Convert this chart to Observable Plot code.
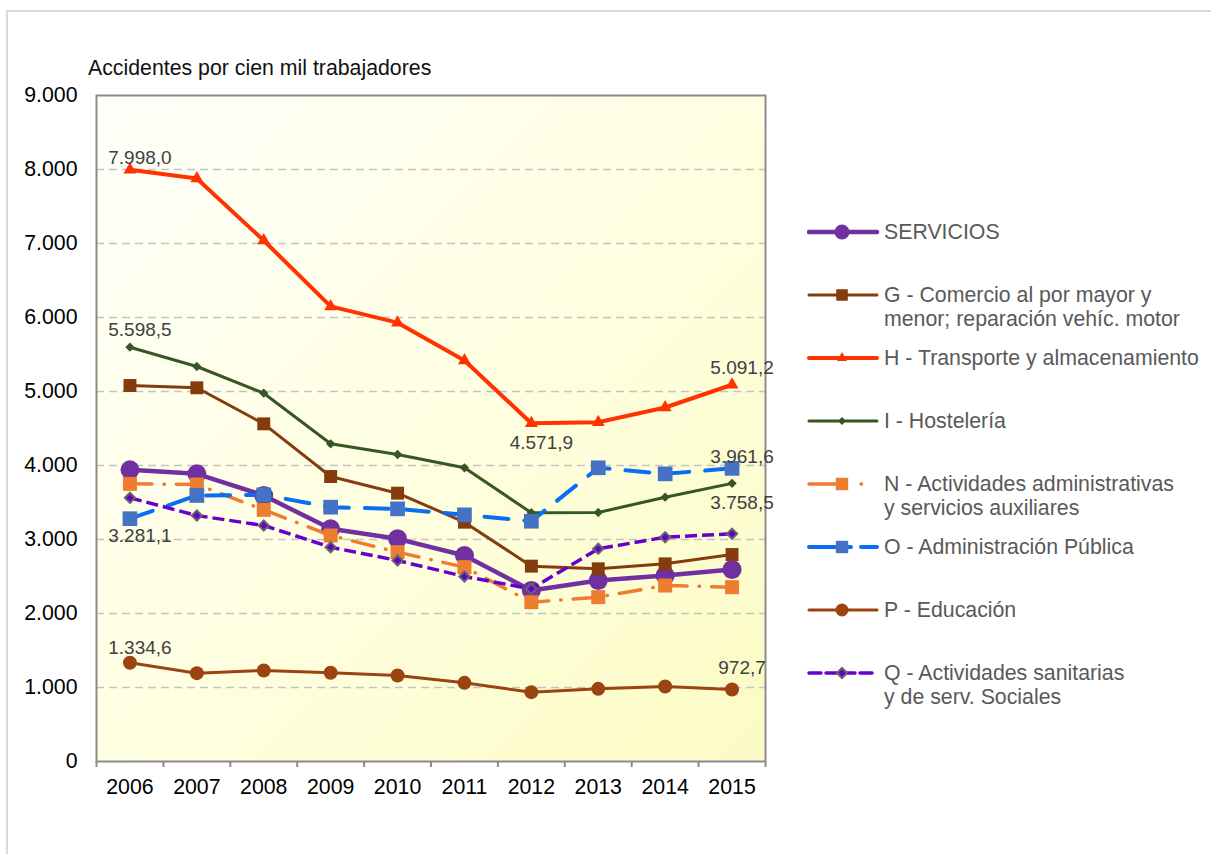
<!DOCTYPE html>
<html>
<head>
<meta charset="utf-8">
<script src="https://cdn.jsdelivr.net/npm/d3@7"></script>
<script src="https://cdn.jsdelivr.net/npm/@observablehq/plot@0.6"></script>
<style>
  html, body { margin: 0; padding: 0; background: #fff; overflow: hidden; }
  #wrap { position: relative; width: 1211px; height: 854px; font-family: "Liberation Sans", Arial, sans-serif; }
  #border { position: absolute; left: 6px; top: 10px; width: 1300px; height: 900px; border: 2px solid #d9d9d9; box-sizing: border-box; }
  #title { position: absolute; left: 88px; top: 58px; font-size: 21.3px; line-height: 21px; color: #111; white-space: nowrap; }
  #chart { position: absolute; left: 0; top: 0; }
  .item { position: absolute; left: 807px; }
  .item svg { position: absolute; left: 0; top: 0; }
  .item .txt { position: absolute; left: 77px; top: 0; font-size: 21.3px; line-height: 24px; color: #595959; white-space: nowrap; }
</style>
</head>
<body>
<div id="wrap">
  <div id="border"></div>
  <div id="title">Accidentes por cien mil trabajadores</div>
  <div id="chart"></div>
  <div id="legend"></div>
</div>
<script>
// ---------- data ----------
const years = [2006, 2007, 2008, 2009, 2010, 2011, 2012, 2013, 2014, 2015];
const servicios       = [3941, 3887, 3595, 3144, 3009, 2784, 2311, 2446, 2514, 2595];
const comercio        = [5081, 5050, 4563, 3851, 3626, 3234, 2640, 2604, 2671, 2797];
const transporte      = [7998.0, 7878, 7040, 6150, 5930, 5420, 4571.9, 4585, 4784, 5091.2];
const hosteleria      = [5598.5, 5338, 4977, 4293, 4149, 3969, 3361, 3365, 3572, 3758.5];
const administrativas = [3752, 3743, 3401, 3054, 2829, 2626, 2153, 2221, 2378, 2356];
const adminPublica    = [3281.1, 3595, 3604, 3437, 3414, 3333, 3247, 3969, 3887, 3961.6];
const educacion       = [1334.6, 1194, 1230, 1200, 1162, 1063, 937, 982, 1014, 972.7];
const sanitarias      = [3563, 3324, 3189, 2896, 2716, 2500, 2333, 2874, 3031, 3077];
const yTicks = [0, 1000, 2000, 3000, 4000, 5000, 6000, 7000, 8000, 9000];
const legendLabels = [
  ["SERVICIOS"],
  ["G - Comercio al por mayor y", "menor; reparación vehíc. motor"],
  ["H - Transporte y almacenamiento"],
  ["I - Hostelería"],
  ["N - Actividades administrativas", "y servicios auxiliares"],
  ["O - Administración Pública"],
  ["P - Educación"],
  ["Q - Actividades sanitarias", "y de serv. Sociales"]
];
// data labels: series index, year, placement
const labelPoints = [
  {s: 2, year: 2006, pos: "above"},
  {s: 3, year: 2006, pos: "above"},
  {s: 5, year: 2006, pos: "below"},
  {s: 6, year: 2006, pos: "above"},
  {s: 2, year: 2012, pos: "below"},
  {s: 2, year: 2015, pos: "above"},
  {s: 5, year: 2015, pos: "above"},
  {s: 3, year: 2015, pos: "below"},
  {s: 6, year: 2015, pos: "above"}
];

// ---------- styles ----------
const values = [servicios, comercio, transporte, hosteleria, administrativas, adminPublica, educacion, sanitarias];
const styles = [
  {stroke: "#7030A0", sw: 4.5, dash: null, cap: "round", symbol: "circle", r: 9.5, fill: "#7030A0", mstroke: "none", lr: 7.5, ldash: null},
  {stroke: "#843C0C", sw: 3, dash: null, cap: "round", symbol: "square", r: 7.3, fill: "#843C0C", mstroke: "none", lr: 6.5, ldash: null},
  {stroke: "#FF3300", sw: 4, dash: null, cap: "round", symbol: "triangle", r: 4.8, fill: "#FF3300", mstroke: "none", lr: 3.8, ldash: null},
  {stroke: "#375623", sw: 3, dash: null, cap: "round", symbol: "diamond2", r: 4.2, fill: "#375623", mstroke: "none", lr: 3.6, ldash: null},
  {stroke: "#ED7D31", sw: 3.5, dash: "22,12,0.5,12", cap: "round", symbol: "square", r: 7.9, fill: "#ED7D31", mstroke: "none", lr: 7, ldash: "36,16,0.5,40"},
  {stroke: "#0A6EF5", sw: 4, dash: "24,16", cap: "round", symbol: "square", r: 8.3, fill: "#4472C4", mstroke: "none", lr: 7, ldash: "42,10,20"},
  {stroke: "#9C4311", sw: 3, dash: null, cap: "round", symbol: "circle", r: 7, fill: "#9C4311", mstroke: "none", lr: 6.5, ldash: null},
  {stroke: "#6600CC", sw: 3.5, dash: "12,5", cap: "butt", symbol: "diamond2", r: 4.6, fill: "#6600CC", mstroke: "#666", lr: 4.6, ldash: "12,5"}
];

const esLocale = d3.formatLocale({decimal: ",", thousands: ".", grouping: [3], currency: ["", " €"]});
const fmtTick = esLocale.format(",.0f");
const fmtLabel = esLocale.format(",.1f");

const rows = values.map(arr => years.map((year, i) => ({year, value: arr[i]})));
const boundaries = [years[0] - 0.5, ...years.map(y => y + 0.5)];
const labelOffsets = {
  "2-2006": -12, "3-2006": -17, "5-2006": 17, "6-2006": -15,
  "2-2012": 20, "2-2015": -17, "5-2015": -11, "3-2015": 20, "6-2015": -22
};
const labelRows = labelPoints.map(p => {
  const v = values[p.s][years.indexOf(p.year)];
  return {year: p.year, value: v, text: fmtLabel(v), dy: labelOffsets[p.s + "-" + p.year] ?? (p.pos === "above" ? -15 : 18)};
});

const seriesMarks = [];
styles.forEach((st, k) => {
  seriesMarks.push(Plot.line(rows[k], {
    x: "year", y: "value", stroke: st.stroke, strokeWidth: st.sw,
    strokeDasharray: st.dash ?? undefined, strokeLinecap: st.cap, strokeLinejoin: "round"
  }));
  seriesMarks.push(Plot.dot(rows[k], {
    x: "year", y: "value", symbol: st.symbol, r: st.r, fill: st.fill,
    stroke: st.mstroke, strokeWidth: st.mstroke === "none" ? 0 : 2
  }));
});

const labelMarks = labelRows.map(d => Plot.text([d], {
  x: "year", y: "value", text: "text", dx: 10, dy: d.dy,
  fill: "#404040", fontSize: 19, textAnchor: "middle"
}));

const chart = Plot.plot({
  width: 790, height: 806,
  marginLeft: 96, marginRight: 25, marginTop: 95, marginBottom: 45,
  x: {type: "linear", domain: [boundaries[0], boundaries[boundaries.length - 1]]},
  y: {domain: [0, 9000]},
  style: {fontFamily: "'Liberation Sans', Arial, sans-serif", fontSize: "21px", color: "#000", background: "transparent", overflow: "visible"},
  marks: [
    Plot.frame({fill: "url(#bgGrad)", stroke: null}),
    Plot.gridY(yTicks.filter(t => t > 0 && t < 9000), {stroke: "#c4c4c4", strokeOpacity: 1, strokeDasharray: "8,5", strokeWidth: 1.5}),
    Plot.frame({stroke: "#8c8c8c", strokeWidth: 2}),
    Plot.axisY({ticks: yTicks, tickSize: 0, tickPadding: 19, tickFormat: fmtTick, label: null, fontSize: 21.3, fill: "#000"}),
    Plot.axisX({ticks: years, tickSize: 0, tickPadding: 17, tickFormat: d => String(d), label: null, fontSize: 21.3, fill: "#000"}),
    Plot.axisX({ticks: boundaries, tickSize: 6, tickFormat: () => "", label: null, stroke: "#8c8c8c", strokeWidth: 2}),
    ...seriesMarks,
    ...labelMarks
  ]
});

// gradient definition for plot background
const ns = "http://www.w3.org/2000/svg";
const defs = document.createElementNS(ns, "defs");
defs.innerHTML = `<linearGradient id="bgGrad" x1="0" y1="0" x2="1" y2="1">
  <stop offset="0" stop-color="#FFFFFA"/><stop offset="0.5" stop-color="#FFFFE2"/><stop offset="1" stop-color="#FBFBC4"/></linearGradient>`;
chart.insertBefore(defs, chart.firstChild);
document.getElementById("chart").appendChild(chart);

// ---------- legend ----------
const legend = document.getElementById("legend");
const legendTop = 232, legendStep = 63;
styles.forEach((st, k) => {
  const cy = legendTop + legendStep * k;
  const item = document.createElement("div");
  item.className = "item";
  item.style.top = (cy - 12) + "px";
  const svg = d3.create("svg").attr("width", 74).attr("height", 24);
  svg.append("line").attr("x1", 2).attr("x2", 70).attr("y1", 12).attr("y2", 12)
    .attr("stroke", st.stroke).attr("stroke-width", st.sw)
    .attr("stroke-linecap", "round")
    .attr("stroke-dasharray", st.ldash);
  const symMap = {circle: d3.symbolCircle, square: d3.symbolSquare, triangle: d3.symbolTriangle, diamond2: d3.symbolDiamond2};
  svg.append("path").attr("transform", "translate(35,12)")
    .attr("d", d3.symbol(symMap[st.symbol], Math.PI * st.lr * st.lr)())
    .attr("fill", st.fill).attr("stroke", st.mstroke === "none" ? null : st.mstroke)
    .attr("stroke-width", st.mstroke === "none" ? null : 2);
  item.appendChild(svg.node());
  const txt = document.createElement("div");
  txt.className = "txt";
  txt.innerHTML = legendLabels[k].join("<br>");
  item.appendChild(txt);
  legend.appendChild(item);
});
</script>
</body>
</html>
